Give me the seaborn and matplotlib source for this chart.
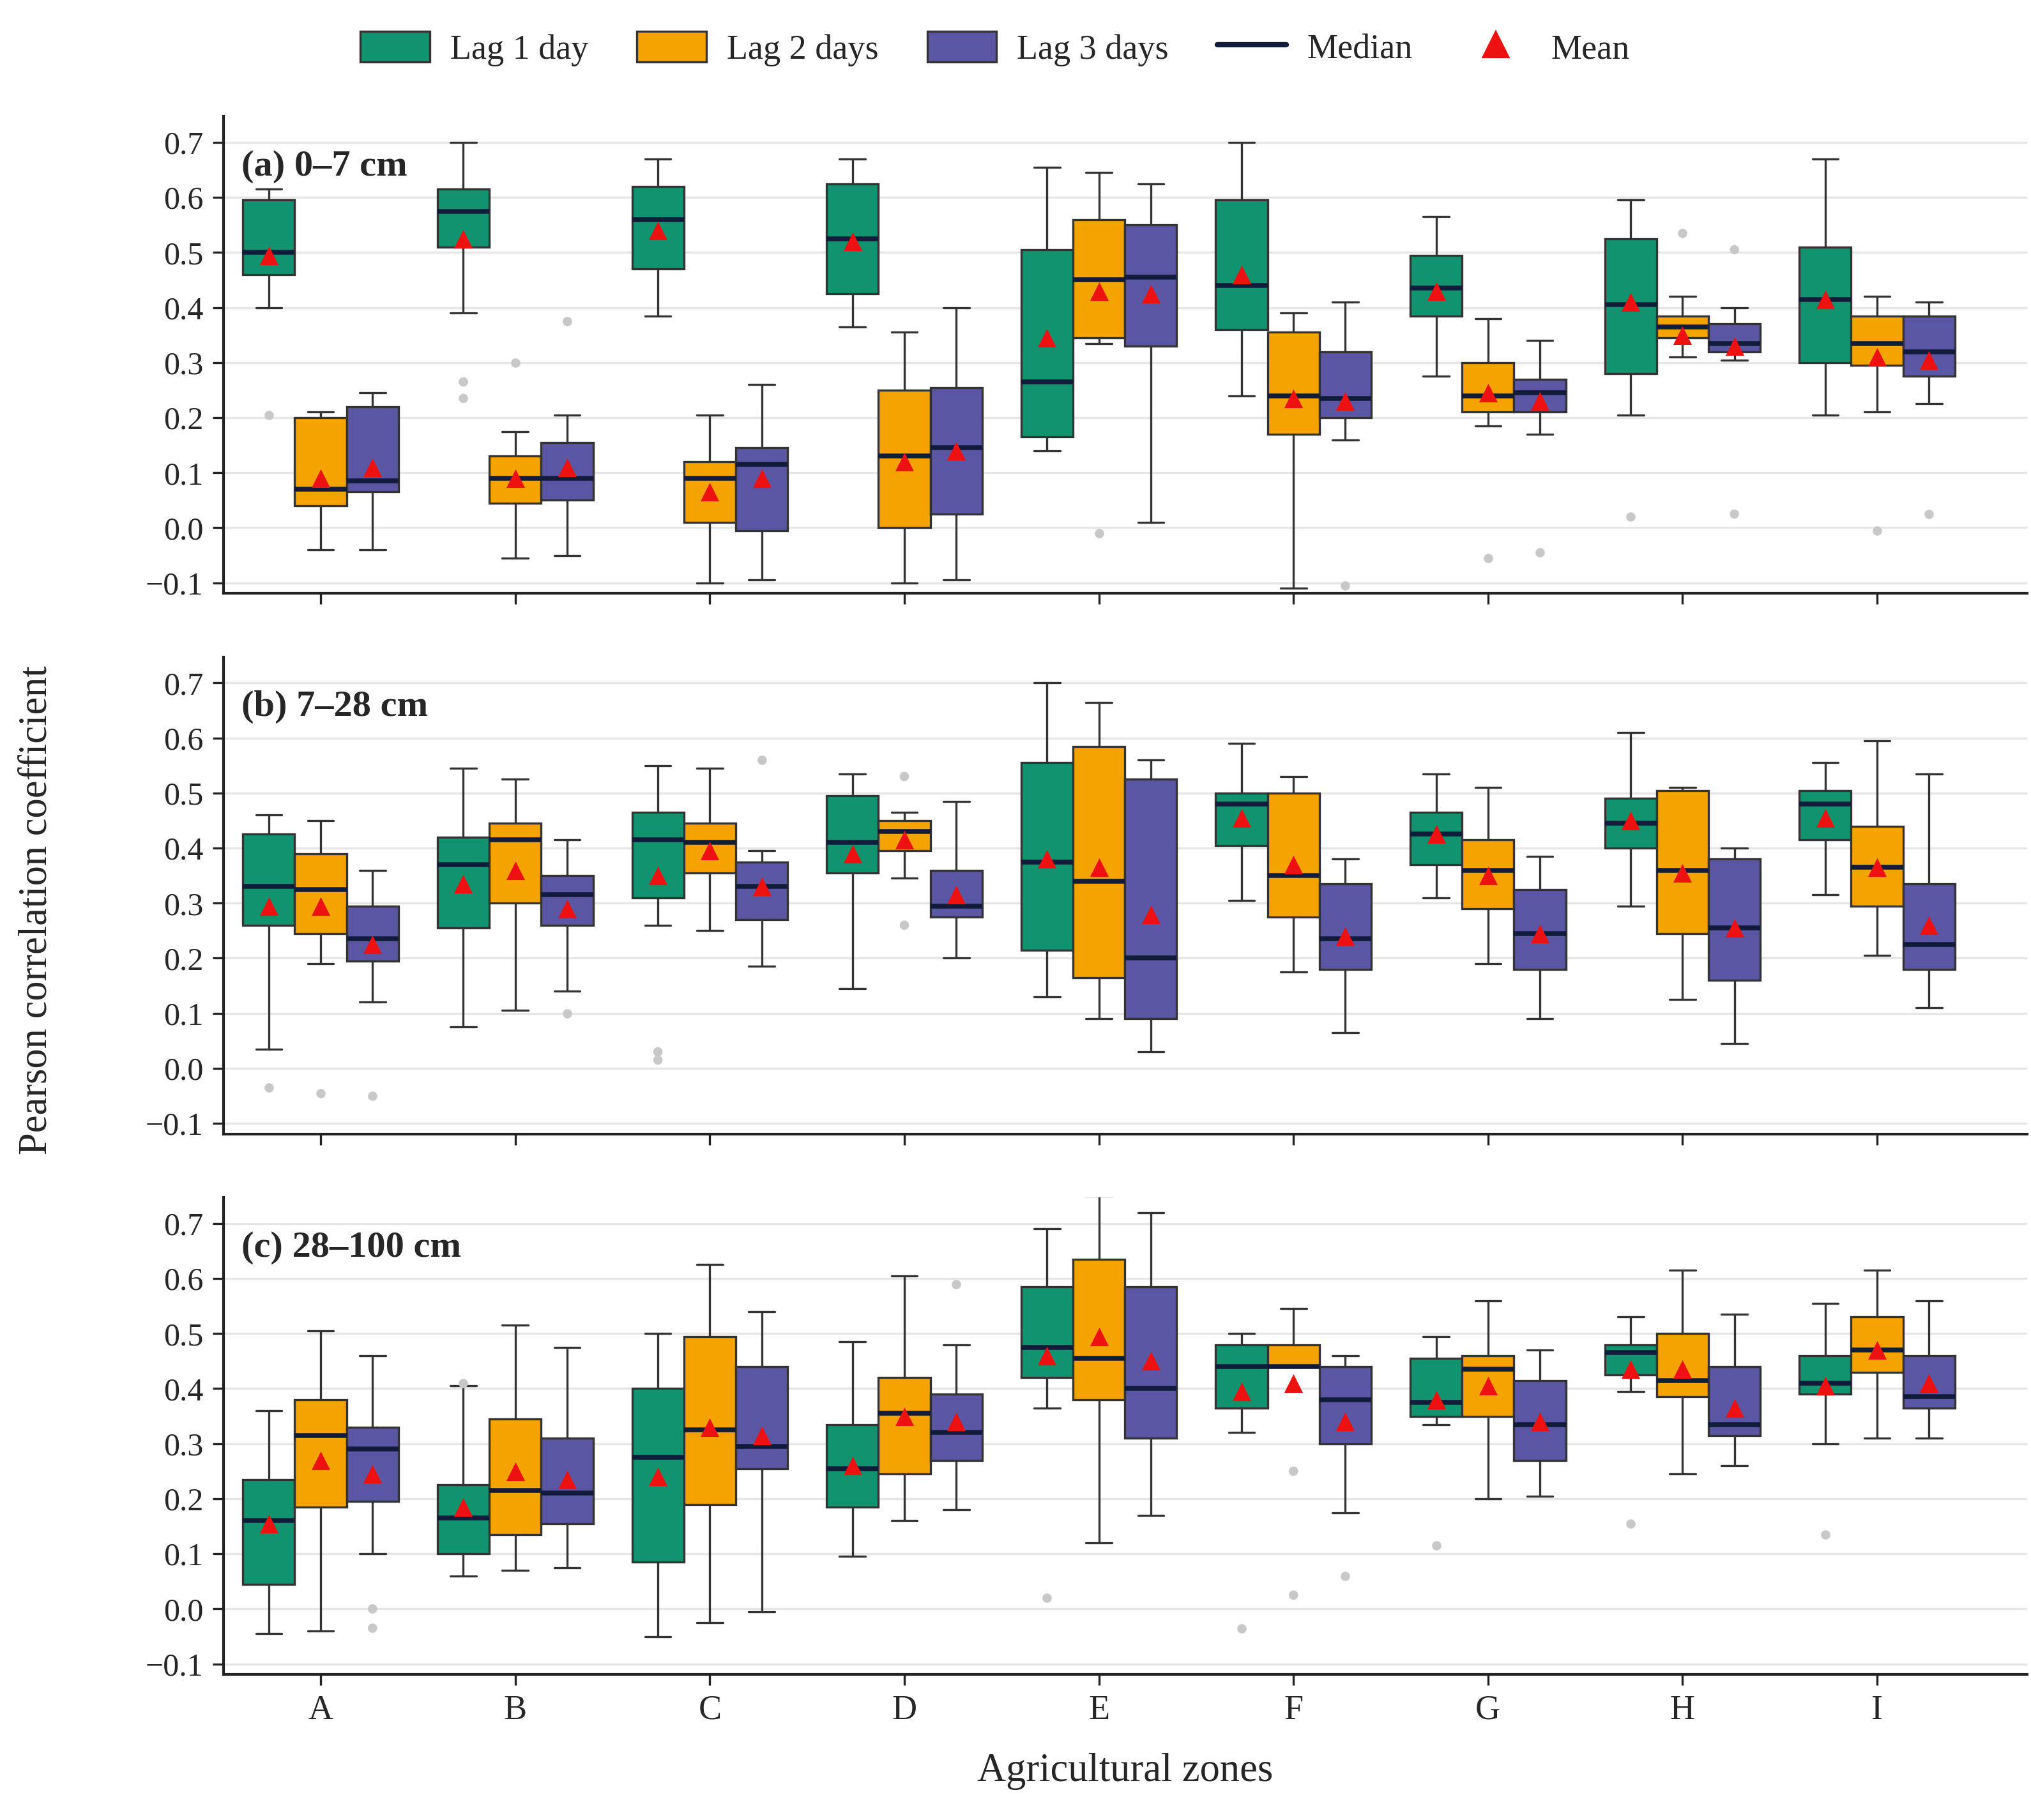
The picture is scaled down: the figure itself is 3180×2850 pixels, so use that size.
import numpy as np
import pandas as pd
import seaborn as sns
import matplotlib.pyplot as plt
from matplotlib.patches import Patch
from matplotlib.lines import Line2D

zones = list("ABCDEFGHI")
lags = ["Lag 1 day", "Lag 2 days", "Lag 3 days"]
colors = ["#12936f", "#f5a300", "#5b56a3"]
panel_titles = ["(a) 0\u20137 cm", "(b) 7\u201328 cm", "(c) 28\u2013100 cm"]

# each row: zone, lag index, whisker low, q1, median, q3, whisker high, mean
stats_a = [
    ("A", 0, 0.40, 0.46, 0.50, 0.595, 0.615, 0.495), ("A", 1, -0.04, 0.04, 0.07, 0.20, 0.21, 0.09), ("A", 2, -0.04, 0.065, 0.085, 0.22, 0.245, 0.11),
    ("B", 0, 0.39, 0.51, 0.575, 0.615, 0.70, 0.525), ("B", 1, -0.055, 0.045, 0.09, 0.13, 0.175, 0.09), ("B", 2, -0.05, 0.05, 0.09, 0.155, 0.205, 0.11),
    ("C", 0, 0.385, 0.47, 0.56, 0.62, 0.67, 0.54), ("C", 1, -0.10, 0.01, 0.09, 0.12, 0.205, 0.065), ("C", 2, -0.095, -0.005, 0.115, 0.145, 0.26, 0.09),
    ("D", 0, 0.365, 0.425, 0.525, 0.625, 0.67, 0.52), ("D", 1, -0.10, 0.0, 0.13, 0.25, 0.355, 0.12), ("D", 2, -0.095, 0.025, 0.145, 0.255, 0.40, 0.14),
    ("E", 0, 0.14, 0.165, 0.265, 0.505, 0.655, 0.345), ("E", 1, 0.335, 0.345, 0.45, 0.56, 0.645, 0.43), ("E", 2, 0.01, 0.33, 0.455, 0.55, 0.625, 0.425),
    ("F", 0, 0.24, 0.36, 0.44, 0.595, 0.70, 0.46), ("F", 1, -0.11, 0.17, 0.24, 0.355, 0.39, 0.235), ("F", 2, 0.16, 0.20, 0.235, 0.32, 0.41, 0.23),
    ("G", 0, 0.275, 0.385, 0.435, 0.495, 0.565, 0.43), ("G", 1, 0.185, 0.21, 0.24, 0.30, 0.38, 0.245), ("G", 2, 0.17, 0.21, 0.245, 0.27, 0.34, 0.23),
    ("H", 0, 0.205, 0.28, 0.405, 0.525, 0.595, 0.41), ("H", 1, 0.31, 0.345, 0.365, 0.385, 0.42, 0.35), ("H", 2, 0.305, 0.32, 0.335, 0.37, 0.40, 0.33),
    ("I", 0, 0.205, 0.30, 0.415, 0.51, 0.67, 0.415), ("I", 1, 0.21, 0.295, 0.335, 0.385, 0.42, 0.31), ("I", 2, 0.225, 0.275, 0.32, 0.385, 0.41, 0.305),
]
stats_b = [
    ("A", 0, 0.035, 0.26, 0.33, 0.425, 0.46, 0.295), ("A", 1, 0.19, 0.245, 0.325, 0.39, 0.45, 0.295), ("A", 2, 0.12, 0.195, 0.235, 0.295, 0.36, 0.225),
    ("B", 0, 0.075, 0.255, 0.37, 0.42, 0.545, 0.335), ("B", 1, 0.105, 0.30, 0.415, 0.445, 0.525, 0.36), ("B", 2, 0.14, 0.26, 0.315, 0.35, 0.415, 0.29),
    ("C", 0, 0.26, 0.31, 0.415, 0.465, 0.55, 0.35), ("C", 1, 0.25, 0.355, 0.41, 0.445, 0.545, 0.395), ("C", 2, 0.185, 0.27, 0.33, 0.375, 0.395, 0.33),
    ("D", 0, 0.145, 0.355, 0.41, 0.495, 0.535, 0.39), ("D", 1, 0.345, 0.395, 0.43, 0.45, 0.465, 0.415), ("D", 2, 0.20, 0.275, 0.295, 0.36, 0.485, 0.315),
    ("E", 0, 0.13, 0.215, 0.375, 0.555, 0.70, 0.38), ("E", 1, 0.09, 0.165, 0.34, 0.585, 0.665, 0.365), ("E", 2, 0.03, 0.09, 0.20, 0.525, 0.56, 0.28),
    ("F", 0, 0.305, 0.405, 0.48, 0.50, 0.59, 0.455), ("F", 1, 0.175, 0.275, 0.35, 0.50, 0.53, 0.37), ("F", 2, 0.065, 0.18, 0.235, 0.335, 0.38, 0.24),
    ("G", 0, 0.31, 0.37, 0.425, 0.465, 0.535, 0.425), ("G", 1, 0.19, 0.29, 0.36, 0.415, 0.51, 0.35), ("G", 2, 0.09, 0.18, 0.245, 0.325, 0.385, 0.245),
    ("H", 0, 0.295, 0.40, 0.445, 0.49, 0.61, 0.45), ("H", 1, 0.125, 0.245, 0.36, 0.505, 0.51, 0.355), ("H", 2, 0.045, 0.16, 0.255, 0.38, 0.40, 0.255),
    ("I", 0, 0.315, 0.415, 0.48, 0.505, 0.555, 0.455), ("I", 1, 0.205, 0.295, 0.365, 0.44, 0.595, 0.365), ("I", 2, 0.11, 0.18, 0.225, 0.335, 0.535, 0.26),
]
stats_c = [
    ("A", 0, -0.045, 0.045, 0.16, 0.235, 0.36, 0.155), ("A", 1, -0.04, 0.185, 0.315, 0.38, 0.505, 0.27), ("A", 2, 0.10, 0.195, 0.29, 0.33, 0.46, 0.245),
    ("B", 0, 0.06, 0.10, 0.165, 0.225, 0.405, 0.185), ("B", 1, 0.07, 0.135, 0.215, 0.345, 0.515, 0.25), ("B", 2, 0.075, 0.155, 0.21, 0.31, 0.475, 0.235),
    ("C", 0, -0.05, 0.085, 0.275, 0.40, 0.50, 0.24), ("C", 1, -0.025, 0.19, 0.325, 0.495, 0.625, 0.33), ("C", 2, -0.005, 0.255, 0.295, 0.44, 0.54, 0.315),
    ("D", 0, 0.095, 0.185, 0.255, 0.335, 0.485, 0.26), ("D", 1, 0.16, 0.245, 0.355, 0.42, 0.605, 0.35), ("D", 2, 0.18, 0.27, 0.32, 0.39, 0.48, 0.34),
    ("E", 0, 0.365, 0.42, 0.475, 0.585, 0.69, 0.46), ("E", 1, 0.12, 0.38, 0.455, 0.635, 0.75, 0.495), ("E", 2, 0.17, 0.31, 0.40, 0.585, 0.72, 0.45),
    ("F", 0, 0.32, 0.365, 0.44, 0.48, 0.50, 0.395), ("F", 1, 0.44, 0.44, 0.44, 0.48, 0.545, 0.41), ("F", 2, 0.175, 0.30, 0.38, 0.44, 0.46, 0.34),
    ("G", 0, 0.335, 0.35, 0.375, 0.455, 0.495, 0.38), ("G", 1, 0.20, 0.35, 0.435, 0.46, 0.56, 0.405), ("G", 2, 0.205, 0.27, 0.335, 0.415, 0.47, 0.34),
    ("H", 0, 0.395, 0.425, 0.465, 0.48, 0.53, 0.435), ("H", 1, 0.245, 0.385, 0.415, 0.50, 0.615, 0.435), ("H", 2, 0.26, 0.315, 0.335, 0.44, 0.535, 0.365),
    ("I", 0, 0.30, 0.39, 0.41, 0.46, 0.555, 0.405), ("I", 1, 0.31, 0.43, 0.47, 0.53, 0.615, 0.47), ("I", 2, 0.31, 0.365, 0.385, 0.46, 0.56, 0.41),
]

# outliers: zone, lag index, value
outliers_a = [("A", 0, 0.205), ("B", 0, 0.265), ("B", 0, 0.235), ("B", 1, 0.30), ("B", 2, 0.375), ("E", 1, -0.01),
              ("F", 2, -0.105), ("G", 1, -0.055), ("G", 2, -0.045), ("H", 0, 0.02), ("H", 1, 0.535),
              ("H", 2, 0.505), ("H", 2, 0.025), ("I", 1, -0.005), ("I", 2, 0.025)]
outliers_b = [("A", 0, -0.035), ("A", 1, -0.045), ("A", 2, -0.05), ("B", 2, 0.10), ("C", 0, 0.03), ("C", 0, 0.015),
              ("C", 2, 0.56), ("D", 1, 0.53), ("D", 1, 0.26)]
outliers_c = [("A", 2, 0.0), ("A", 2, -0.035), ("B", 0, 0.41), ("D", 2, 0.59), ("E", 0, 0.02), ("F", 0, -0.035),
              ("F", 1, 0.25), ("F", 1, 0.025), ("F", 2, 0.06), ("G", 0, 0.115), ("H", 0, 0.155), ("I", 0, 0.135)]


def box_frame(stats):
    rows = []
    for z, l, lo, q1, med, q3, hi, mean in stats:
        for v in (lo, q1, med, q3, hi):
            rows.append({"zone": z, "lag": lags[l], "value": v})
    return pd.DataFrame(rows)


def mean_frame(stats):
    return pd.DataFrame([{"zone": s[0], "lag": lags[s[1]], "value": s[7]} for s in stats])


def out_frame(outs):
    return pd.DataFrame([{"zone": z, "lag": lags[l], "value": v} for z, l, v in outs])


sns.set_theme(style="white")
plt.rcParams["font.family"] = ["Liberation Serif", "DejaVu Serif"]

fig = plt.figure(figsize=(10.6, 9.5), dpi=300)
tops = [0.936, 0.639, 0.342]
h = 0.262
panels = [(stats_a, outliers_a), (stats_b, outliers_b), (stats_c, outliers_c)]

for i, (stats, outs) in enumerate(panels):
    ax = fig.add_axes([0.11, tops[i] - h, 0.888, h])
    ax.yaxis.grid(True, color="#e6e6e6", lw=0.8)
    ax.set_axisbelow(True)
    sns.boxplot(data=box_frame(stats), x="zone", y="value", hue="lag", order=zones, hue_order=lags,
                palette=colors, saturation=1, whis=(0, 100), showfliers=False, width=0.8,
                linecolor="#333333", linewidth=0.8, medianprops=dict(color="#101c3a", lw=1.8),
                legend=False, ax=ax)
    sns.stripplot(data=out_frame(outs), x="zone", y="value", hue="lag", order=zones, hue_order=lags,
                  palette=["#c8c8c8"] * 3, dodge=True, jitter=False, size=3.5, legend=False, ax=ax)
    sns.stripplot(data=mean_frame(stats), x="zone", y="value", hue="lag", order=zones, hue_order=lags,
                  palette=["#ee1111"] * 3, dodge=True, jitter=False, marker="^", size=7, legend=False,
                  zorder=5, ax=ax)
    ax.set_ylim(-0.119, 0.747)
    ax.set_xlim(-0.5, 8.77)
    ax.set_yticks(np.round(np.arange(-0.1, 0.71, 0.1), 1))
    ax.set_yticklabels([f"{t:.1f}".replace("-", "\u2212") for t in np.arange(-0.1, 0.71, 0.1)], fontsize=12)
    ax.tick_params(axis="both", length=4, width=0.8, color="#222222", bottom=True, left=True)
    for s in ["top", "right"]:
        ax.spines[s].set_visible(False)
    for s in ["left", "bottom"]:
        ax.spines[s].set_color("#222222")
        ax.spines[s].set_linewidth(1.0)
    ax.set_xlabel("")
    ax.set_ylabel("")
    if i < 2:
        ax.set_xticklabels([])
    else:
        ax.tick_params(axis="x", labelsize=13)
        ax.set_xlabel("Agricultural zones", fontsize=15, labelpad=10)
    ax.text(0.01, 0.93, panel_titles[i], transform=ax.transAxes, fontsize=14, fontweight="bold",
            va="top", ha="left")

fig.text(0.018, 0.5, "Pearson correlation coefficient", rotation=90, fontsize=15, va="center", ha="center")

handles = [Patch(facecolor=c, edgecolor="#333333", lw=0.8) for c in colors]
handles += [Line2D([], [], color="#101c3a", lw=2),
            Line2D([], [], color="#ee1111", marker="^", ls="", markersize=9)]
fig.legend(handles, lags + ["Median", "Mean"], loc="upper center", bbox_to_anchor=(0.49, 1.0), ncol=5,
           frameon=False, fontsize=13, handlelength=2.0, handleheight=1.0, columnspacing=1.4,
           handletextpad=0.6)

fig.savefig("out.png", dpi=300)
